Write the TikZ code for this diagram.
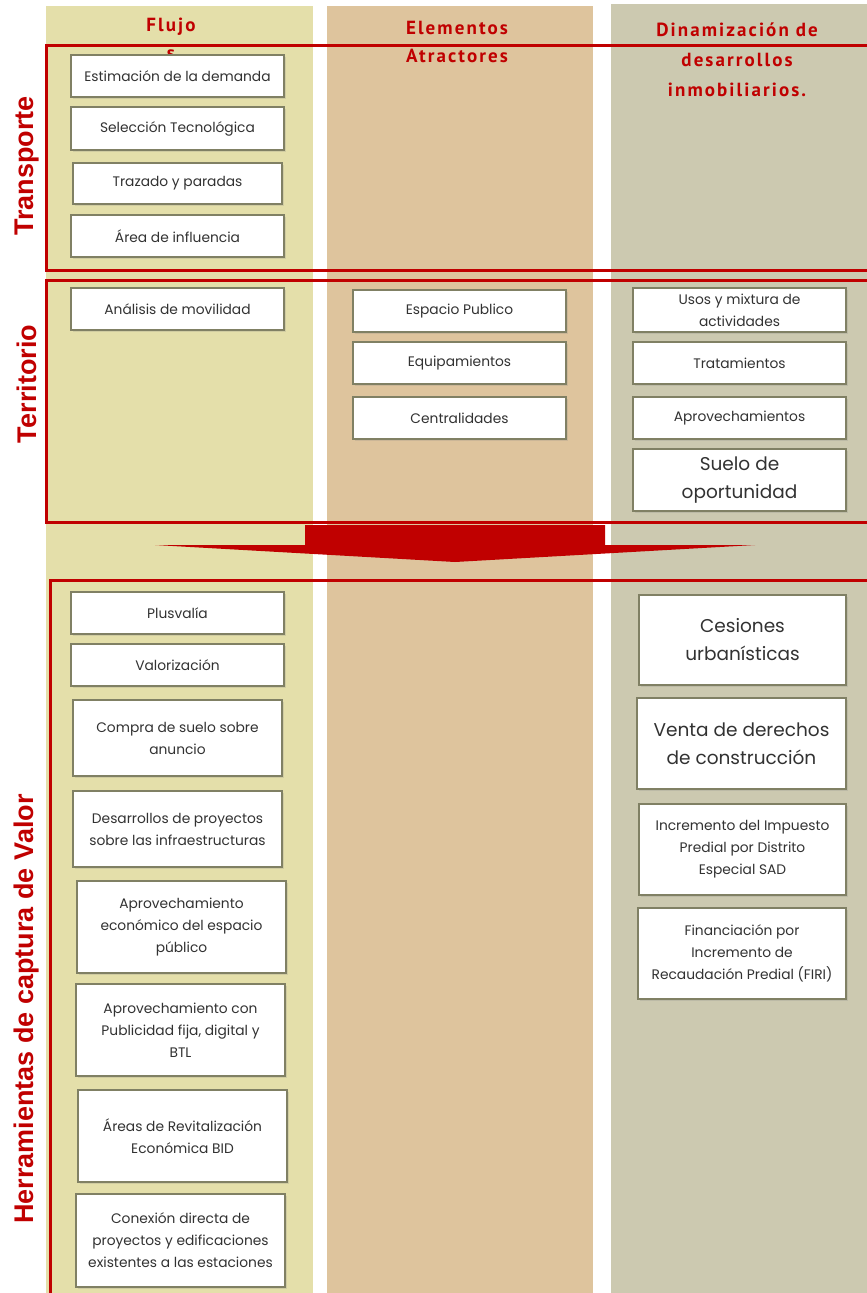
\documentclass[tikz,border=0pt]{standalone}
\usepackage{fontspec}
\setmainfont{Poppins}
\newfontfamily\headfont[LetterSpace=11]{PT Sans}
\newfontfamily\sidefont{Liberation Sans}
\usetikzlibrary{shadows}
\definecolor{colflujo}{RGB}{228,223,170}
\definecolor{colatrac}{RGB}{222,196,157}
\definecolor{coldinam}{RGB}{204,201,176}
\definecolor{framered}{RGB}{192,0,0}
\definecolor{boxline}{RGB}{128,128,100}
\definecolor{boxtext}{RGB}{50,50,50}
\tikzset{
  box/.style={draw=boxline, line width=1.2pt, fill=white, text=boxtext, align=center,
    inner sep=2pt, font=\fontsize{13.8}{22}\selectfont,
    drop shadow={opacity=0.2, shadow xshift=1.5pt, shadow yshift=-1.5pt}},
  bigbox/.style={box, font=\fontsize{18.5}{28}\selectfont},
  header/.style={text=framered, font=\headfont\bfseries\fontsize{19}{28}\selectfont, align=center},
  sidelabel/.style={text=framered, font=\sidefont\bfseries\fontsize{27}{27}\selectfont, rotate=90},
  frame/.style={draw=framered, line width=3pt},
}
\begin{document}
\begin{tikzpicture}[x=1pt, y=-1pt]
  \useasboundingbox (0,0) rectangle (867,1293);
  % columns
  \fill[colflujo] (46,6) rectangle (313,1293);
  \fill[colatrac] (327,6) rectangle (593,1293);
  \fill[coldinam] (611,4) rectangle (867,1293);
  % headers
  \node[header] (hflujo) at (171,39) {Flujo\\s};
  \node[header] (hatrac) at (457,42) {Elementos\\Atractores};
  \node[header, font=\headfont\bfseries\fontsize{19}{30}\selectfont] (hdinam) at (737,60) {Dinamización de\\desarrollos\\inmobiliarios.};
  % arrow
  \fill[framered] (305,525) -- (605,525) -- (605,545) -- (755,545) -- (455,562)
    -- (155,545) -- (305,545) -- cycle;
  % frames
  \draw[frame] (46,45) rectangle (880,270);
  \draw[frame] (46,280) rectangle (880,522);
  \draw[frame] (50,580) rectangle (880,1310);
  \node[sidelabel] (ltrans) at (27,166) {Transporte};
  \node[sidelabel] (lterr) at (27,384) {Territorio};
  \node[sidelabel] (lherr) at (27,1009) {Herramientas de captura de Valor};
  % transporte
  \node[box, minimum width=213, minimum height=42] (demanda) at (177.5,76) {Estimación de la demanda};
  \node[box, minimum width=213, minimum height=43] (tecno) at (177.5,128.5) {Selección Tecnológica};
  \node[box, minimum width=209, minimum height=41] (trazado) at (177.5,183.5) {Trazado y paradas};
  \node[box, minimum width=213, minimum height=42] (influ) at (177.5,236) {Área de influencia};
  % territorio
  \node[box, minimum width=213, minimum height=42] (movil) at (177.5,309) {Análisis de movilidad};
  \node[box, minimum width=213, minimum height=42] (espacio) at (459.5,311) {Espacio Publico};
  \node[box, minimum width=213, minimum height=42] (equip) at (459.5,363) {Equipamientos};
  \node[box, minimum width=213, minimum height=42] (central) at (459.5,418) {Centralidades};
  \node[box, minimum width=213, minimum height=44] (usos) at (739.5,310) {Usos y mixtura de\\actividades};
  \node[box, minimum width=213, minimum height=42] (trata) at (739.5,363) {Tratamientos};
  \node[box, minimum width=213, minimum height=42] (aprov) at (739.5,418) {Aprovechamientos};
  \node[bigbox, minimum width=213, minimum height=62] (suelo) at (739.5,480) {Suelo de\\oportunidad};
  % herramientas
  \node[box, minimum width=213, minimum height=42] (plusv) at (177.5,613) {Plusvalía};
  \node[box, minimum width=213, minimum height=42] (valor) at (177.5,665) {Valorización};
  \node[box, minimum width=209, minimum height=76] (compra) at (177.5,738) {Compra de suelo sobre\\anuncio};
  \node[box, minimum width=209, minimum height=76] (desarr) at (177.5,829) {Desarrollos de proyectos\\sobre las infraestructuras};
  \node[box, minimum width=209, minimum height=92] (aprovesp) at (181.5,927) {Aprovechamiento\\económico del espacio\\público};
  \node[box, minimum width=209, minimum height=92] (public) at (180.5,1030) {Aprovechamiento con\\Publicidad fija, digital y\\BTL};
  \node[box, minimum width=209, minimum height=92] (bid) at (182.5,1136) {Áreas de Revitalización\\Económica BID};
  \node[box, minimum width=209, minimum height=93] (conex) at (180.5,1240.5) {Conexión directa de\\proyectos y edificaciones\\existentes a las estaciones};
  \node[bigbox, minimum width=207, minimum height=90] (cesion) at (742.5,640) {Cesiones\\urbanísticas};
  \node[bigbox, minimum width=209, minimum height=91] (venta) at (741.5,743.5) {Venta de derechos\\de construcción};
  \node[box, minimum width=207, minimum height=91] (predial) at (742.5,849.5) {Incremento del Impuesto\\Predial por Distrito\\Especial SAD};
  \node[box, minimum width=208, minimum height=91] (firi) at (742,953.5) {Financiación por\\Incremento de\\Recaudación Predial (FIRI)};
\end{tikzpicture}
\end{document}
